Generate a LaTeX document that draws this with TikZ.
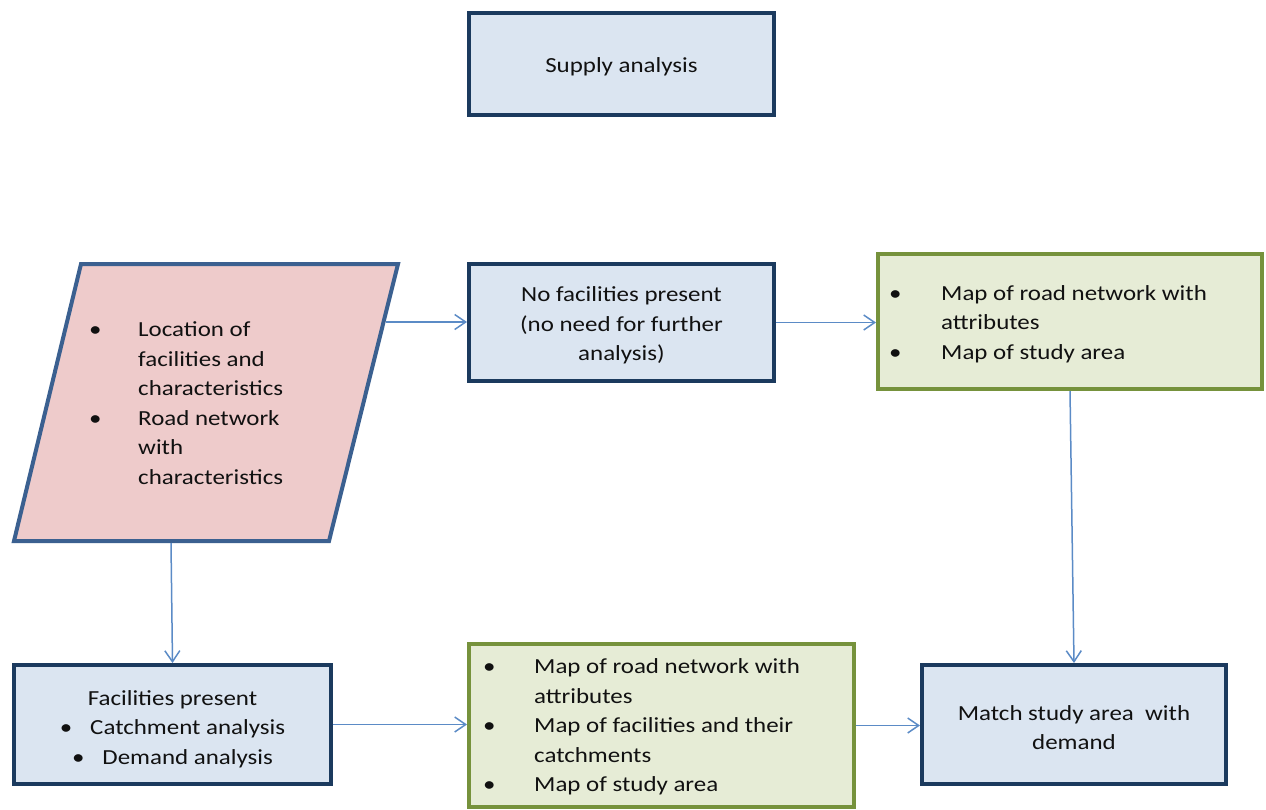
\documentclass[tikz,border=0pt]{standalone}
\usepackage{fontspec}
\setmainfont{Carlito}[FakeStretch=1.16]
\usetikzlibrary{arrows.meta}
\definecolor{boxblue}{HTML}{DBE5F1}
\definecolor{navy}{HTML}{1B3A5E}
\definecolor{inpink}{HTML}{EECBCB}
\definecolor{steel}{HTML}{3B6090}
\definecolor{boxgreen}{HTML}{E6ECD6}
\definecolor{olive}{HTML}{76923C}
\definecolor{flowblue}{HTML}{5B8BC6}
\definecolor{ink}{HTML}{111111}
\newcommand{\bodysize}{\fontsize{21.5pt}{29.5pt}\selectfont}
\newcommand{\bul}{\textbullet}
\tikzset{
  every node/.style={font=\bodysize, text=ink},
  bluebox/.style={draw=navy, fill=boxblue, line width=4pt, rectangle, inner sep=0pt},
  greenbox/.style={draw=olive, fill=boxgreen, line width=4pt, rectangle, inner sep=0pt},
  boxtext/.style={inner sep=0pt, align=center, yshift=-3pt},
  listtext/.style={inner sep=0pt, anchor=west, yshift=-2pt},
  flow/.style={draw=flowblue, line width=1.5pt, -{Straight Barb[length=11pt,width=15pt,line width=1.5pt]}},
}
\begin{document}
\begin{tikzpicture}[x=1pt, y=-1pt]
  \useasboundingbox (0,0) rectangle (1266,809);

  % top heading box
  \node[bluebox, minimum width=305pt, minimum height=102pt] (supply) at (621.5,64) {};
  \node[boxtext] (supplytext) at (supply.center) {Supply analysis};

  % input data (parallelogram)
  \draw[steel, fill=inpink, line width=4pt, line join=miter]
    (81,264) -- (398,264) -- (329,541) -- (14,541) -- cycle;
  \node[listtext] (loc) at (89,402.5) {%
    \begin{tabular}{@{}p{49pt}@{}l@{}}
      \bul & Location of\\
           & facilities and\\
           & characteristics\\
      \bul & Road network\\
           & with\\
           & characteristics
    \end{tabular}};
  \coordinate (locE) at (386,322);
  \coordinate (locS) at (171,543);

  % upper branch
  \node[bluebox, minimum width=305pt, minimum height=117pt] (nofac) at (621.5,322.5) {};
  \node[boxtext] (nofactext) at (nofac.center)
    {No facilities present\\(no need for further\\analysis)};
  \node[greenbox, minimum width=384pt, minimum height=135pt] (gtop) at (1070,321.5) {};
  \node[listtext] (gtoptext) at (889,322) {%
    \begin{tabular}{@{}p{52pt}@{}l@{}}
      \bul & Map of road network with\\
           & attributes\\
      \bul & Map of study area
    \end{tabular}};

  % lower branch
  \node[bluebox, minimum width=317pt, minimum height=119pt] (fac) at (172.5,724.5) {};
  \node[boxtext, yshift=-1.5pt] (factext) at (fac.center)
    {Facilities present\\\bul\hspace{18pt}Catchment analysis\\\bul\hspace{18pt}Demand analysis};
  \node[greenbox, minimum width=385pt, minimum height=163pt] (gbot) at (661.5,725.5) {};
  \node[listtext] (gbottext) at (483,725) {%
    \begin{tabular}{@{}p{51pt}@{}l@{}}
      \bul & Map of road network with\\
           & attributes\\
      \bul & Map of facilities and their\\
           & catchments\\
      \bul & Map of study area
    \end{tabular}};
  \node[bluebox, minimum width=304pt, minimum height=119pt] (match) at (1074,724.5) {};
  \node[boxtext] (matchtext) at (match.center) {Match study area\ \ with\\demand};

  % connectors
  \draw[flow] (locE) -- (locE -| nofac.west);
  \draw[flow] (nofac.east) -- (nofac.east -| gtop.west);
  \draw[flow] (gtop.south) -- (match.north);
  \draw[flow] (locS) -- (fac.north);
  \draw[flow] (fac.east) -- (fac.east -| gbot.west);
  \draw[flow] (gbot.east) -- (gbot.east -| match.west);
\end{tikzpicture}
\end{document}
